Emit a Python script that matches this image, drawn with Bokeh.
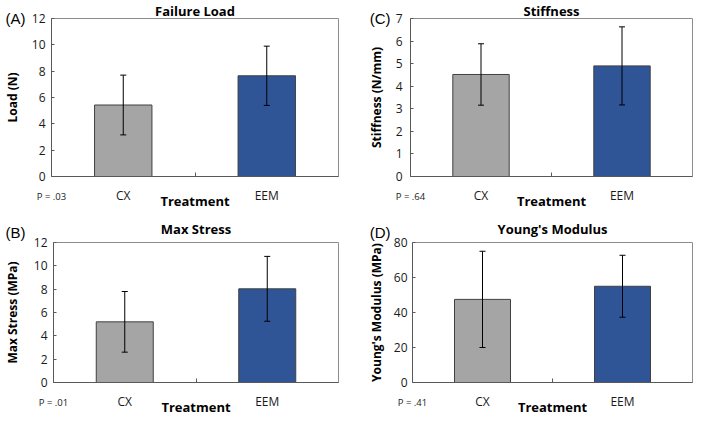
from bokeh.plotting import figure
from bokeh.models import Range1d, FixedTicker, LinearAxis, Whisker, ColumnDataSource, TeeHead
from bokeh.layouts import column, row
from bokeh.embed import file_html
from bokeh.resources import INLINE

# ---------------- data ----------------
categories = ["CX", "EEM"]
bar_colors = ["#A5A5A5", "#2F5597"]

load_mean = [5.43, 7.65]
load_err = [2.27, 2.25]
stress_mean = [5.2, 8.03]
stress_err = [2.6, 2.78]
stiff_mean = [4.52, 4.9]
stiff_err = [1.36, 1.73]
modulus_mean = [47.5, 55.0]
modulus_err = [27.5, 17.7]

load_ticks = [0, 2, 4, 6, 8, 10, 12]
stress_ticks = [0, 2, 4, 6, 8, 10, 12]
stiff_ticks = [0, 1, 2, 3, 4, 5, 6, 7]
modulus_ticks = [0, 20, 40, 60, 80]

p_values = ["P = .03", "P = .01", "P = .64", "P = .41"]

FONT = "Open Sans"
AXIS_GRAY = "#595959"


def make_panel(title, letter, ylabel, means, errs, ticks, p_text,
               width, height, br, title_standoff,
               ytick_standoff, letter_standoff, ylabel_standoff):
    n = len(categories)
    xs = [i + 0.5 for i in range(n)]
    p = figure(width=width, height=height, output_backend="svg",
               toolbar_location=None, tools="",
               x_range=Range1d(0, n), y_range=Range1d(ticks[0], ticks[-1]),
               x_axis_location=None, y_axis_location=None,
               min_border=0, min_border_right=br)
    p.background_fill_color = "white"
    p.border_fill_color = "white"
    p.outline_line_color = "#8C8C8C"
    p.outline_line_width = 1
    p.grid.visible = False

    # title
    p.title.text = title
    p.title.align = "center"
    p.title.text_font = FONT
    p.title.text_font_style = "bold"
    p.title.text_font_size = "13px"
    p.title.text_color = "black"
    p.title.standoff = title_standoff

    # bars + error bars
    src = ColumnDataSource(dict(x=xs, top=means, color=bar_colors,
                                upper=[m + e for m, e in zip(means, errs)],
                                lower=[m - e for m, e in zip(means, errs)]))
    p.vbar(x="x", top="top", bottom=0, width=0.4, source=src,
           fill_color="color", line_color="#404040", line_width=1)
    w = Whisker(base="x", upper="upper", lower="lower", source=src,
                line_color="black", line_width=1, level="overlay",
                upper_head=TeeHead(size=6, line_color="black", line_width=1),
                lower_head=TeeHead(size=6, line_color="black", line_width=1))
    p.add_layout(w)

    # inner bottom axis: axis line, mid category tick, P value, axis title
    pa = LinearAxis(ticker=FixedTicker(ticks=[0], minor_ticks=list(range(1, n))),
                    major_label_overrides={0: p_text})
    pa.axis_line_color = AXIS_GRAY
    pa.major_tick_line_color = None
    pa.major_tick_out = 0
    pa.major_tick_in = 0
    pa.minor_tick_in = 4
    pa.minor_tick_out = 0
    pa.minor_tick_line_color = AXIS_GRAY
    pa.major_label_text_font = FONT
    pa.major_label_text_font_size = "9.5px"
    pa.major_label_text_color = "#1a1a1a"
    pa.major_label_standoff = 13
    pa.axis_label = "Treatment"
    pa.axis_label_text_font = FONT
    pa.axis_label_text_font_style = "bold"
    pa.axis_label_text_font_size = "13px"
    pa.axis_label_text_color = "black"
    pa.axis_label_standoff = -14
    p.add_layout(pa, "below")

    # outer bottom axis: category labels
    xa = LinearAxis(ticker=FixedTicker(ticks=xs),
                    major_label_overrides={x: c for x, c in zip(xs, categories)})
    xa.axis_line_color = None
    xa.major_tick_line_color = None
    xa.major_tick_out = 0
    xa.major_tick_in = 0
    xa.minor_tick_line_color = None
    xa.minor_tick_out = 0
    xa.major_label_text_font = FONT
    xa.major_label_text_font_size = "12px"
    xa.major_label_text_color = "#1a1a1a"
    xa.major_label_standoff = -26
    p.add_layout(xa, "below")

    # inner left axis: value ticks
    ya = LinearAxis(ticker=FixedTicker(ticks=ticks))
    ya.minor_tick_line_color = None
    ya.minor_tick_out = 0
    ya.major_tick_in = 3
    ya.major_tick_out = 0
    ya.major_tick_line_color = AXIS_GRAY
    ya.axis_line_color = AXIS_GRAY
    ya.major_label_text_font = FONT
    ya.major_label_text_font_size = "12px"
    ya.major_label_text_color = "#1a1a1a"
    ya.major_label_standoff = ytick_standoff
    p.add_layout(ya, "left")

    # outer left axis: panel letter + axis title
    la = LinearAxis(ticker=FixedTicker(ticks=[ticks[-1]]),
                    major_label_overrides={ticks[-1]: letter})
    la.axis_line_color = None
    la.major_tick_line_color = None
    la.major_tick_out = 0
    la.major_tick_in = 0
    la.minor_tick_line_color = None
    la.minor_tick_out = 0
    la.major_label_text_font = "Liberation Sans"
    la.major_label_text_font_size = "15px"
    la.major_label_text_color = "black"
    la.major_label_standoff = letter_standoff
    la.axis_label = ylabel
    la.axis_label_text_font = FONT
    la.axis_label_text_font_style = "bold"
    la.axis_label_text_font_size = "12px"
    la.axis_label_text_color = "black"
    la.axis_label_standoff = ylabel_standoff
    p.add_layout(la, "left")
    return p


pa_ = make_panel("Failure Load", "(A)", "Load (N)", load_mean, load_err, load_ticks, p_values[0],
                 width=364, height=212, br=26, title_standoff=-2,
                 ytick_standoff=6, letter_standoff=3, ylabel_standoff=-18)
pc_ = make_panel("Stiffness", "(C)", "Stiffness (N/mm)", stiff_mean, stiff_err, stiff_ticks, p_values[2],
                 width=329, height=212, br=1, title_standoff=-2,
                 ytick_standoff=8, letter_standoff=2, ylabel_standoff=-18)
pb_ = make_panel("Max Stress", "(B)\n", "Max Stress (MPa)", stress_mean, stress_err, stress_ticks, p_values[1],
                 width=364, height=206, br=26, title_standoff=10,
                 ytick_standoff=6, letter_standoff=5, ylabel_standoff=-18)
pd_ = make_panel("Young's Modulus", "(D)\n", "Young's Modulus (MPa)", modulus_mean, modulus_err, modulus_ticks, p_values[3],
                 width=329, height=206, br=1, title_standoff=10,
                 ytick_standoff=5, letter_standoff=0, ylabel_standoff=-18)

layout = column(row(pa_, pc_, spacing=0), row(pb_, pd_, spacing=0), spacing=0)

open("out.html", "w").write(file_html(layout, INLINE))
